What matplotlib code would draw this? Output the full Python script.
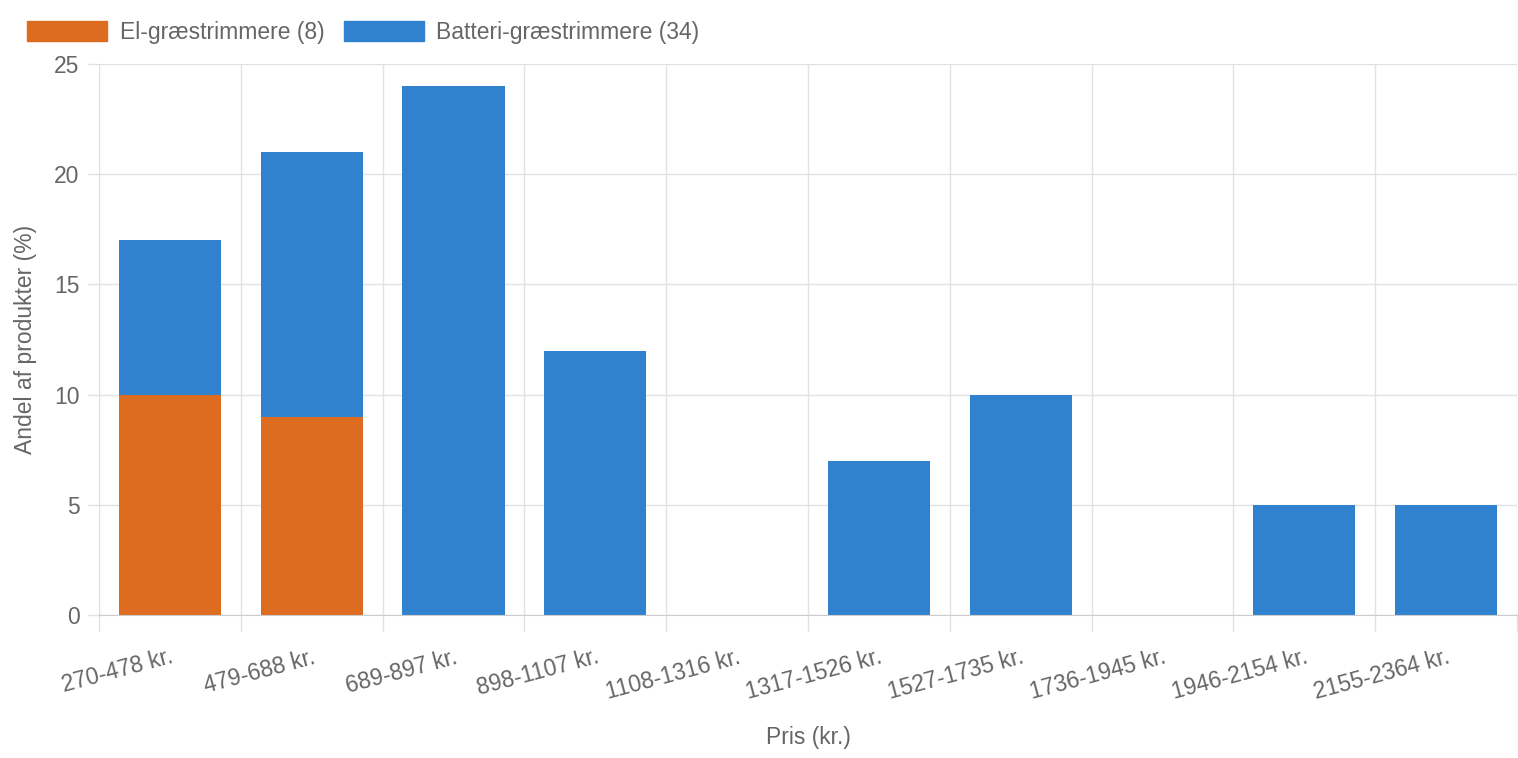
import numpy as np
import matplotlib.pyplot as plt
from matplotlib.patches import Patch

# data
categories = ['270-478 kr.', '479-688 kr.', '689-897 kr.', '898-1107 kr.', '1108-1316 kr.',
              '1317-1526 kr.', '1527-1735 kr.', '1736-1945 kr.', '1946-2154 kr.', '2155-2364 kr.']
el_values = [10, 9, 0, 0, 0, 0, 0, 0, 0, 0]
batteri_values = [7, 12, 24, 12, 0, 7, 10, 0, 5, 5]
series_names = ['El-græstrimmere (8)', 'Batteri-græstrimmere (34)']
y_ticks = [0, 5, 10, 15, 20, 25]

el_color = '#DD6B20'
batteri_color = '#3182CE'
text_color = '#666666'
grid_color = '#e1e1e1'
fs = 16.5

plt.rcParams['font.family'] = ['Liberation Sans', 'DejaVu Sans']

fig = plt.figure(figsize=(15.18, 7.58), dpi=100)
ax = fig.add_axes([99 / 1518, 1 - 615 / 758, (1517 - 99) / 1518, (615 - 64) / 758])

x = np.arange(len(categories))
ax.bar(x, el_values, width=0.72, color=el_color, zorder=3)
ax.bar(x, batteri_values, width=0.72, bottom=el_values, color=batteri_color, zorder=3)

ax.set_xlim(-0.5, len(categories) - 0.5)
ax.set_ylim(0, 25)
ax.set_yticks(y_ticks)
ax.set_xticks(x)
ax.set_xticklabels(categories, rotation=15, ha='right', rotation_mode='anchor')
ax.set_xticks(np.arange(-0.5, len(categories)), minor=True)

ax.tick_params(axis='x', which='major', length=0, pad=22, labelsize=fs, labelcolor=text_color)
ax.tick_params(axis='x', which='minor', length=11.5, color=grid_color, width=1)
ax.tick_params(axis='y', length=8, color=grid_color, width=1, pad=6, labelsize=fs, labelcolor=text_color)

ax.grid(True, axis='y', color=grid_color, linewidth=1, zorder=0)
ax.grid(True, axis='x', which='minor', color=grid_color, linewidth=1, zorder=0)
ax.grid(False, axis='x', which='major')

for side in ['top', 'right']:
    ax.spines[side].set_visible(False)
ax.spines['left'].set_color(grid_color)
ax.spines['bottom'].set_color('#cccccc')
ax.spines['bottom'].set_zorder(4)

ax.set_ylabel('Andel af produkter (%)', fontsize=fs, color=text_color, labelpad=12)
ax.set_xlabel('Pris (kr.)', fontsize=fs, color=text_color, labelpad=16)

handles = [Patch(color=el_color), Patch(color=batteri_color)]
fig.legend(handles, series_names, loc='upper left', bbox_to_anchor=(0.004, 1.0), ncol=2,
           frameon=False, fontsize=fs, labelcolor=text_color, handlelength=3.5, handleheight=1.0,
           handletextpad=0.55, columnspacing=0.85)

fig.savefig('out.png', dpi=100)
